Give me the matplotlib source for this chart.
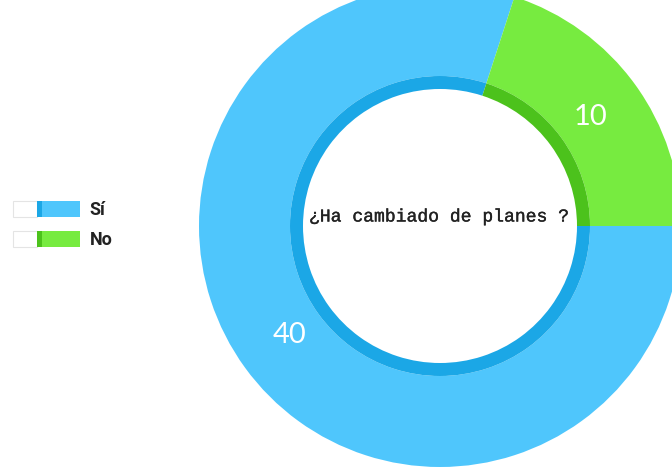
import matplotlib.pyplot as plt
import matplotlib.patheffects as pe
from matplotlib.patches import Rectangle
from matplotlib.legend_handler import HandlerBase

# datos
labels = ["Sí", "No"]
values = [40, 10]
colors = ["#4fc6fc", "#77eb40"]
ring_colors = ["#1ba7e6", "#4cc21c"]
title = "¿Ha cambiado de planes ?"

W, H = 672, 470
top = 8  # franja blanca arriba (la dona queda cortada)
AH = H - top
cx, cy = 440, AH - (226 - top)
r_out, r_ring, r_in = 241, 150, 137


class BoxHandler(HandlerBase):
    # caja blanca + caja de color con franja oscura a la izquierda
    def __init__(self, dark):
        super().__init__()
        self.dark = dark

    def create_artists(self, legend, orig_handle, xdescent, ydescent,
                       width, height, fontsize, trans):
        x0, y0 = -xdescent, -ydescent
        ww = width * 0.36
        white = Rectangle((x0, y0), ww, height, facecolor="white",
                          edgecolor="#e4e4e4", lw=0.8, transform=trans)
        col = Rectangle((x0 + ww, y0), width - ww, height,
                        facecolor=orig_handle.get_facecolor(), lw=0, transform=trans)
        strip = Rectangle((x0 + ww, y0), width * 0.075, height,
                          facecolor=self.dark, lw=0, transform=trans)
        return [white, col, strip]


fig = plt.figure(figsize=(W / 100, H / 100), dpi=100)
ax = fig.add_axes([0, 0, 1, AH / H])

total = sum(values)
ax.pie(values, colors=colors, startangle=72, counterclock=True,
       center=(cx, cy), radius=r_out,
       wedgeprops=dict(width=r_out - r_ring, linewidth=0),
       autopct=lambda p: f"{p * total / 100:.0f}", pctdistance=0.77,
       textprops=dict(color="white", fontsize=21, family="Lato"))
ax.pie(values, colors=ring_colors, startangle=72, counterclock=True,
       center=(cx, cy), radius=r_ring,
       wedgeprops=dict(width=r_ring - r_in, linewidth=0))

ax.text(cx - 2, AH - (217 - top), title, ha="center", va="center", fontsize=13,
        family=["Liberation Mono", "DejaVu Sans Mono"], color="#222222",
        path_effects=[pe.withStroke(linewidth=0.25, foreground="#222222")])

handles = [Rectangle((0, 0), 1, 1, facecolor=c) for c in colors]
leg = ax.legend(handles, labels, loc="center left",
                bbox_to_anchor=(13 / W, 1 - (225 - top) / AH), frameon=False,
                borderpad=0, borderaxespad=0, handlelength=3.7, handleheight=1.0,
                labelspacing=0.65, handletextpad=0.55,
                handler_map={handles[0]: BoxHandler(ring_colors[0]),
                             handles[1]: BoxHandler(ring_colors[1])},
                prop=dict(family=["Roboto", "DejaVu Sans"],
                          weight="bold", size=13))
for t in leg.get_texts():
    t.set_color("#222222")

ax.set_xlim(0, W)
ax.set_ylim(0, AH)
ax.set_aspect("equal")
ax.axis("off")

fig.savefig("out.png", dpi=100, facecolor="white")
